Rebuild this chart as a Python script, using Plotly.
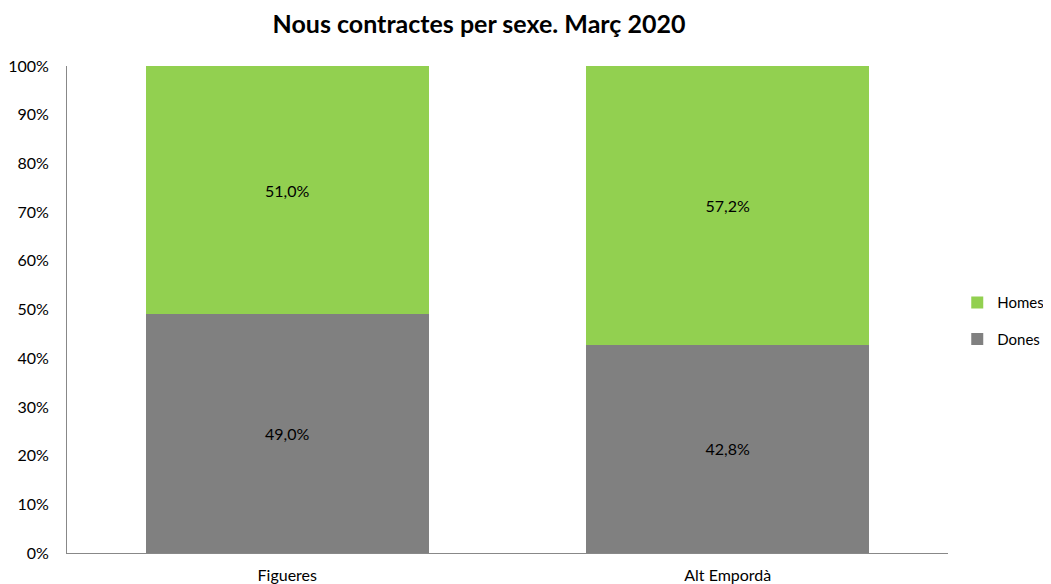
import plotly.graph_objects as go

categories = ["Figueres", "Alt Empordà"]
dones = [49.0, 42.8]
homes = [51.0, 57.2]
dones_labels = ["49,0%", "42,8%"]
homes_labels = ["51,0%", "57,2%"]
tick_vals = [0, 10, 20, 30, 40, 50, 60, 70, 80, 90, 100]
tick_text = [f"{v}%" for v in tick_vals]

FONT = "Lato, 'Open Sans', sans-serif"

fig = go.Figure()
fig.add_trace(go.Bar(
    x=categories, y=dones, name="Dones", marker_color="#808080",
    legendgroup="d", legendrank=2,
    text=dones_labels, textposition="inside", insidetextanchor="middle",
    textfont=dict(color="#000000", size=16, family=FONT),
    marker_line_width=0,
))
fig.add_trace(go.Bar(
    x=categories, y=homes, name="Homes", marker_color="#92D050",
    legendgroup="h", legendrank=1,
    text=homes_labels, textposition="inside", insidetextanchor="middle",
    textfont=dict(color="#000000", size=16, family=FONT),
    marker_line_width=0,
))

fig.update_layout(
    barmode="stack",
    bargap=0.357,
    width=1043, height=576,
    margin=dict(l=59, r=103, t=58, b=31, autoexpand=False),
    paper_bgcolor="white", plot_bgcolor="white",
    title=dict(text="<b>Nous contractes per sexe. Març 2020</b>",
               x=0.4516, xanchor="center", y=0.971, yanchor="middle",
               xref="container", yref="container",
               font=dict(size=25, family=FONT, color="#000000")),
    font=dict(family=FONT, size=16, color="#000000"),
    legend=dict(x=1.0105, xanchor="left", y=0.477, yanchor="middle",
                traceorder="grouped", font=dict(size=15, family=FONT),
                itemwidth=30, tracegroupgap=14),
    showlegend=True,
    uniformtext=dict(mode="show", minsize=10),
)
fig.update_yaxes(range=[0, 100], tickvals=tick_vals, ticktext=tick_text,
                 showgrid=False, showline=True, linecolor="#888888", linewidth=1,
                 ticks="", ticklabelstandoff=14, zeroline=False,
                 tickfont=dict(size=16, family=FONT))
fig.update_xaxes(showgrid=False, showline=True, linecolor="#888888", linewidth=1,
                 ticks="", ticklabelstandoff=8, tickfont=dict(size=16, family=FONT))

fig.write_html("out.html")
